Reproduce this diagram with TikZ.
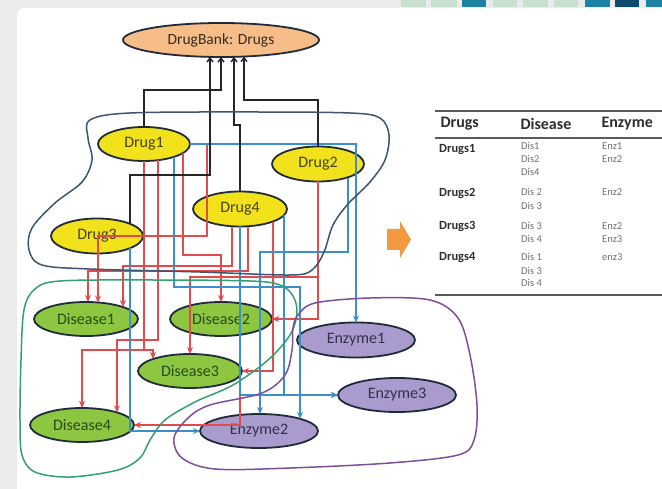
\documentclass[tikz,border=0pt]{standalone}
\usepackage{fontspec}
\setmainfont{Carlito}
\usetikzlibrary{shapes.geometric,arrows.meta,calc}

\definecolor{drugfill}{HTML}{F2E21B}
\definecolor{disfill}{HTML}{8DC641}
\definecolor{enzfill}{HTML}{A99BCD}
\definecolor{dbfill}{HTML}{F7BD88}
\definecolor{nodeedge}{HTML}{1F2A3A}
\definecolor{wirered}{HTML}{E14B4E}
\definecolor{wireblue}{HTML}{3C8FCB}
\definecolor{wireblack}{HTML}{262626}
\definecolor{drugzone}{HTML}{3D5570}
\definecolor{diszone}{HTML}{34A070}
\definecolor{enzzone}{HTML}{7D4F9B}
\definecolor{drugtxt}{HTML}{45421F}
\definecolor{distxt}{HTML}{284A1A}
\definecolor{enztxt}{HTML}{35304A}
\definecolor{dbtxt}{HTML}{352B22}
\definecolor{arrowor}{HTML}{F29A3F}
\definecolor{rulegray}{HTML}{5A5A5A}
\definecolor{celltxt}{HTML}{707070}
\definecolor{headtxt}{HTML}{2E2E2E}
\definecolor{tabgreen}{HTML}{C7DFCC}
\definecolor{tabteal}{HTML}{1B82A4}
\definecolor{tabnavy}{HTML}{0F4A6F}

\begin{document}
\begin{tikzpicture}[x=1pt,y=-1pt,
  ell/.style={ellipse, draw=nodeedge, line width=1.8pt, inner sep=0pt, outer sep=0pt,
    font=\fontsize{16}{16}\selectfont},
  dbnode/.style={ell, fill=dbfill, text=dbtxt, minimum width=196pt, minimum height=34pt,
    font=\fontsize{15.5}{15.5}\selectfont},
  drugnode/.style={ell, fill=drugfill, text=drugtxt, minimum width=92pt, minimum height=35pt},
  disnode/.style={ell, fill=disfill, text=distxt, minimum width=104pt, minimum height=34pt},
  enznode/.style={ell, fill=enzfill, text=enztxt, minimum width=118pt, minimum height=35pt},
  wire/.style={line width=1.4pt},
  redw/.style={wire, draw=wirered, -{Stealth[length=7pt,width=6pt]}},
  bluew/.style={wire, draw=wireblue, -{Stealth[length=7pt,width=6pt]}},
  blackw/.style={wire, draw=wireblack, -{Straight Barb[length=4pt,width=6pt]}},
  zone/.style={line width=1.5pt},
  hdr/.style={anchor=west, text=headtxt, font=\fontsize{16}{16}\selectfont\bfseries},
  rowlab/.style={anchor=west, text=headtxt, font=\fontsize{12.5}{12.5}\selectfont\bfseries,
    text height=8.5pt, text depth=2.5pt, inner sep=1pt},
  cell/.style={anchor=west, text=celltxt, font=\fontsize{10.5}{10.5}\selectfont,
    text height=7pt, text depth=2pt, inner sep=1pt},
  tabrule/.style={draw=rulegray, line width=1.6pt}
]
\useasboundingbox (0,0) rectangle (662,489);

% slide background
\fill[black!8] (0,0) rectangle (662,489);
\fill[white, rounded corners=8pt] (17,8) rectangle (700,520);

% strip of squares along the top edge
\foreach \xa/\xb/\c in {401/426/tabgreen, 431/457/tabgreen, 462/486/tabteal,
    493/517/tabgreen, 523/548/tabgreen, 554/578/tabgreen, 585/610/tabteal,
    615/639/tabnavy, 646/662/tabteal}
  \fill[\c] (\xa,0) rectangle (\xb,7);

% nodes
\node[dbnode] (db) at (221,40) {DrugBank: Drugs};
\node[drugnode, minimum height=34pt] (d1) at (144,144) {Drug1};
\node[drugnode] (d2) at (318,164) {Drug2};
\node[drugnode, minimum width=94pt] (d4) at (240,209) {Drug4};
\node[drugnode] (d3) at (97,236) {Drug3};
\node[disnode] (s1) at (86,319) {Disease1};
\node[disnode, minimum width=102pt] (s2) at (221,319) {Disease2};
\node[disnode] (s3) at (190,371) {Disease3};
\node[disnode] (s4) at (82,425) {Disease4};
\node[enznode] (e1) at (356,340) {Enzyme1};
\node[enznode, minimum height=34pt] (e3) at (397,395) {Enzyme3};
\node[enznode, minimum height=34pt] (e2) at (259,431) {Enzyme2};

% drug -> disease links
\draw[redw] ($(d4.center)+(0,18)$) |- (s4.east);
\draw[redw] (d1.east) -- (207,144) -- (207,236) -- (98,236) -- ($(s1.center)+(12,-16.5)$);
\draw[redw] ($(d1.center)+(39,9)$) |- (221,255) -- (s2.north);
\draw[redw] (d1.south) |- (82,350) -- (s4.north);
\draw[redw] (d1.south) |- (153,350) -- ($(s3.center)+(-37,-11.9)$);
\draw[redw] ($(d1.center)+(14,16.2)$) |- (117,340) -- ($(s4.center)+(35,-12.6)$);
\draw[redw] (d2.south) |- (s2.east);
\draw[redw] (d2.south) |- (190,277) -- (s3.north);
\draw[redw] ($(d4.center)+(33,12.8)$) |- (s3.east);
\draw[redw] ($(d4.center)+(-8,17.7)$) |- (123,266) -- ($(s1.center)+(37,-11.9)$);
\draw[redw] ($(d4.center)+(8,17.7)$) |- (88,271) -- ($(s1.center)+(2,-17)$);

% drug -> enzyme links
\draw[bluew] (d1.east) -| (e1.north);
\draw[bluew] ($(d1.center)+(30,12.9)$) |- (300,287) -- ($(e2.center)+(41,-12.2)$);
\draw[bluew] ($(d2.center)+(30,13.6)$) |- (260,252) -- ($(e2.center)+(1,-17)$);
\draw[bluew] ($(d3.center)+(33,12.5)$) |- (e2.west);
\draw[bluew] (d4.south) |- (e3.west);
\draw[bluew] ($(d4.center)+(44,6.3)$) |- (e3.west);

% drug -> DrugBank links
\draw[blackw] (d1.north) |- (221,90) -- ($(db.center)+(0,17)$);
\draw[blackw] ($(d3.center)+(33,-12.5)$) |- (210,175) -- ($(db.center)+(-11,16.9)$);
\draw[blackw] (d4.north) |- (234,125) -- ($(db.center)+(13,16.85)$);
\draw[blackw] (d2.north) |- (244,100) -- ($(db.center)+(23,16.5)$);

% grouping outlines
\draw[zone, drugzone] plot[smooth cycle, tension=0.55] coordinates {
  (90,120) (130,113) (250,112) (350,113) (380,118) (389,135) (385,160)
  (370,182) (348,204) (333,225) (324,252) (312,270) (290,275) (200,272)
  (90,269) (42,265) (29,250) (32,228) (55,203) (82,182) (92,160) (88,138)};
\draw[zone, diszone] plot[smooth cycle, tension=0.55] coordinates {
  (60,281) (150,280) (250,281) (280,285) (293,296) (297,313) (290,335)
  (268,360) (233,385) (195,402) (165,420) (150,440) (140,458) (118,470)
  (70,477) (35,472) (22,455) (20,420) (21,360) (24,310) (35,289)};
\draw[zone, enzzone] plot[smooth cycle, tension=0.55] coordinates {
  (298,315) (315,303) (370,298) (430,300) (458,318) (470,355) (477,405)
  (474,440) (458,455) (390,463) (290,468) (215,469) (182,458) (174,438)
  (188,418) (210,405) (262,393) (285,375) (292,350) (293,328)};

% transition arrow
\fill[arrowor] (387,229) -- (400,229) -- (400,221) -- (411,239.5) -- (400,258)
  -- (400,250) -- (387,250) -- cycle;

% summary table
\draw[tabrule] (435,111) -- (662,111);
\draw[tabrule, line width=1.2pt] (435,138) -- (662,138);
\draw[tabrule, line width=2pt] (435,295) -- (662,295);
\node[hdr] (h1) at (437,124) {Drugs};
\node[hdr] (h2) at (517,124) {Disease};
\node[hdr] (h3) at (598,124) {Enzyme};

\node[rowlab] (r1) at (438,150) {Drugs1};
\node[rowlab] (r2) at (438,194) {Drugs2};
\node[rowlab] (r3) at (438,227) {Drugs3};
\node[rowlab] (r4) at (438,258) {Drugs4};

\node[cell] (c11) at (520,147) {Dis1};
\node[cell] (c12) at (520,160) {Dis2};
\node[cell] (c13) at (520,173) {Dis4};
\node[cell] (c21) at (520,193) {Dis 2};
\node[cell] (c22) at (520,207) {Dis 3};
\node[cell] (c31) at (520,227) {Dis 3};
\node[cell] (c32) at (520,240) {Dis 4};
\node[cell] (c41) at (520,258) {Dis 1};
\node[cell] (c42) at (520,272) {Dis 3};
\node[cell] (c43) at (520,284) {Dis 4};

\node[cell] (n11) at (601,147) {Enz1};
\node[cell] (n12) at (601,160) {Enz2};
\node[cell] (n21) at (601,193) {Enz2};
\node[cell] (n31) at (601,227) {Enz2};
\node[cell] (n32) at (601,240) {Enz3};
\node[cell] (n41) at (601,258) {enz3};
\end{tikzpicture}
\end{document}
